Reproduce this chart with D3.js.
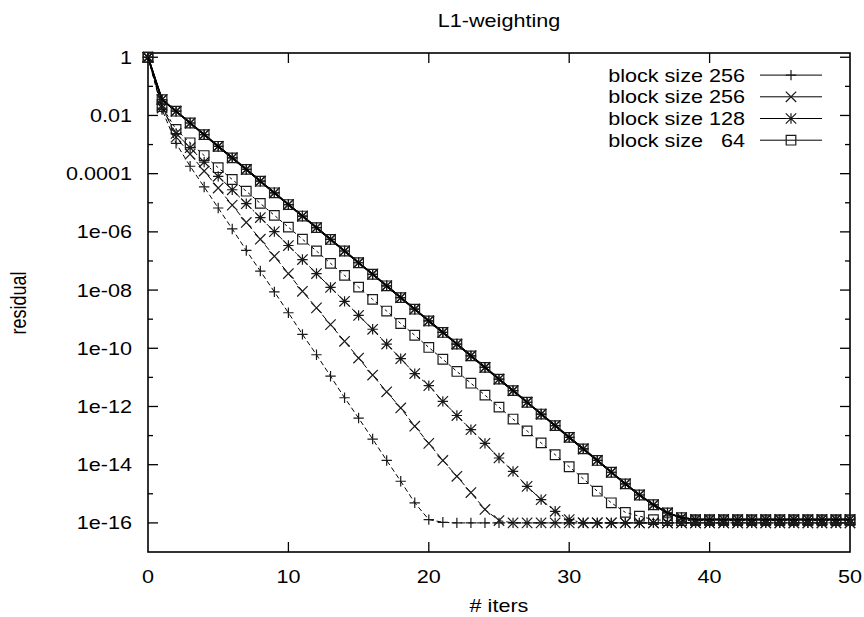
<!DOCTYPE html>
<html>
<head>
<meta charset="utf-8">
<script src="https://cdn.jsdelivr.net/npm/d3@7"></script>
<style>
  html, body { margin: 0; padding: 0; background: #fff; }
  text { font-family: "Liberation Sans", Arial, Helvetica, sans-serif; font-size: 18px; fill: #000; white-space: pre; }
</style>
</head>
<body>
<div id="chart"></div>
<script>
// residual per iteration (iterations 0..50)
let iters = [0,1,2,3,4,5,6,7,8,9,10,11,12,13,14,15,16,17,18,19,20,21,22,23,24,25,
  26,27,28,29,30,31,32,33,34,35,36,37,38,39,40,41,42,43,44,45,46,47,48,49,50];

// the four solid runs lie on top of each other
let solidRes = [1, 3.5e-2, 1.4e-2, 5.5e-3, 2.2e-3, 8.7e-4, 3.5e-4, 1.4e-4, 5.5e-5, 2.2e-5,
  8.7e-6, 3.5e-6, 1.4e-6, 5.5e-7, 2.2e-7, 8.7e-8, 3.5e-8, 1.4e-8, 5.5e-9, 2.2e-9,
  8.7e-10, 3.5e-10, 1.4e-10, 5.5e-11, 2.2e-11, 8.7e-12, 3.5e-12, 1.4e-12, 5.5e-13, 2.2e-13,
  8.7e-14, 3.5e-14, 1.4e-14, 5.5e-15, 2.2e-15, 9.1e-16, 4.2e-16, 2.2e-16, 1.5e-16,
  1.3e-16, 1.3e-16, 1.3e-16, 1.3e-16, 1.3e-16, 1.3e-16, 1.3e-16, 1.3e-16, 1.3e-16, 1.3e-16, 1.3e-16, 1.3e-16];

let dashSquare = [1, 2.0e-2, 3.3e-3, 1.15e-3, 4.2e-4, 1.6e-4, 6.3e-5, 2.5e-5, 9.5e-6, 3.7e-6,
  1.45e-6, 5.6e-7, 2.2e-7, 8.3e-8, 3.2e-8, 1.26e-8, 4.8e-9, 1.9e-9, 7.1e-10, 2.8e-10,
  1.07e-10, 4.2e-11, 1.6e-11, 6.3e-12, 2.45e-12, 9.5e-13, 3.7e-13, 1.45e-13, 5.6e-14, 2.2e-14,
  8.5e-15, 3.3e-15, 1.23e-15, 4.9e-16, 2.3e-16, 1.7e-16, 1.3e-16,
  1.2e-16, 1.2e-16, 1.2e-16, 1.2e-16, 1.2e-16, 1.2e-16, 1.2e-16, 1.2e-16, 1.2e-16, 1.2e-16, 1.2e-16, 1.2e-16, 1.2e-16, 1.2e-16];

let dashStar = [1, 1.8e-2, 2.4e-3, 7.8e-4, 2.5e-4, 8.1e-5, 2.8e-5, 9.3e-6, 3.1e-6, 1.02e-6,
  3.4e-7, 1.12e-7, 3.7e-8, 1.23e-8, 4.1e-9, 1.35e-9, 4.5e-10, 1.4e-10, 4.4e-11, 1.35e-11,
  5.2e-12, 1.5e-12, 4.9e-13, 1.6e-13, 5.4e-14, 1.7e-14, 5.9e-15, 1.8e-15, 6.3e-16, 2.5e-16,
  1.3e-16, 1.0e-16, 1.0e-16, 1.0e-16, 1.0e-16, 1.0e-16, 1.0e-16, 1.0e-16, 1.0e-16, 1.0e-16,
  1.0e-16, 1.0e-16, 1.0e-16, 1.0e-16, 1.0e-16, 1.0e-16, 1.0e-16, 1.0e-16, 1.0e-16, 1.0e-16, 1.0e-16];

let dashCross = [1, 2.2e-2, 1.8e-3, 4.7e-4, 1.23e-4, 3.2e-5, 8.3e-6, 2.1e-6, 5.6e-7, 1.45e-7,
  3.7e-8, 9.1e-9, 2.45e-9, 6.5e-10, 1.74e-10, 4.6e-11, 1.2e-11, 3.2e-12, 8.9e-13, 2.1e-13,
  5.4e-14, 1.4e-14, 4.0e-15, 1.1e-15, 2.9e-16, 1.2e-16,
  1.0e-16, 1.0e-16, 1.0e-16, 1.0e-16, 1.0e-16, 1.0e-16, 1.0e-16, 1.0e-16, 1.0e-16, 1.0e-16,
  1.0e-16, 1.0e-16, 1.0e-16, 1.0e-16, 1.0e-16, 1.0e-16, 1.0e-16, 1.0e-16, 1.0e-16, 1.0e-16,
  1.0e-16, 1.0e-16, 1.0e-16, 1.0e-16, 1.0e-16];

let dashPlus = [1, 1.6e-2, 1.1e-3, 1.8e-4, 3.5e-5, 6.6e-6, 1.26e-6, 2.3e-7, 4.5e-8, 8.7e-9,
  1.66e-9, 3.0e-10, 6.0e-11, 1.1e-11, 2.0e-12, 4.0e-13, 7.6e-14, 1.4e-14, 2.7e-15, 4.9e-16,
  1.3e-16, 1.05e-16,
  1.0e-16, 1.0e-16, 1.0e-16, 1.0e-16, 1.0e-16, 1.0e-16, 1.0e-16, 1.0e-16, 1.0e-16, 1.0e-16,
  1.0e-16, 1.0e-16, 1.0e-16, 1.0e-16, 1.0e-16, 1.0e-16, 1.0e-16, 1.0e-16, 1.0e-16, 1.0e-16,
  1.0e-16, 1.0e-16, 1.0e-16, 1.0e-16, 1.0e-16, 1.0e-16, 1.0e-16, 1.0e-16, 1.0e-16];

let legendNames = ["block size 256", "block size 256", "block size 128", "block size   64"];
let markerTypes = ["plus", "cross", "star", "square"];

let xTicks = [0, 10, 20, 30, 40, 50];
let yTicks = [1, 1e-2, 1e-4, 1e-6, 1e-8, 1e-10, 1e-12, 1e-14, 1e-16];
let yTickLabels = ["1", "0.01", "0.0001", "1e-06", "1e-08", "1e-10", "1e-12", "1e-14", "1e-16"];
let yMinorTicks = [1e-1, 1e-3, 1e-5, 1e-7, 1e-9, 1e-11, 1e-13, 1e-15];

const W = 864, H = 617;
const padding = {left: 148, right: 14, top: 53, bottom: 65};
const SX = 1.2; // glyphs are wider than normal in the reference

let svg = d3.select('#chart').append('svg')
    .attr('width', W)
    .attr('height', H);

let x = d3.scaleLinear()
    .domain([0, 50])
    .range([padding.left, W - padding.right]);
let y = d3.scaleLog()
    .domain([1e-17, 1.4])
    .range([H - padding.bottom, padding.top]);

const x0 = x.range()[0], x1 = x.range()[1];
const yb = y.range()[0], yt = y.range()[1];

function label(g, tx, ty, str, anchor) {
    return g.append('text')
        .attr('transform', `translate(${tx},${ty}) scale(${SX},1)`)
        .attr('text-anchor', anchor)
        .text(str);
}

// ticks (mirrored on all four sides)
let axes = svg.append('g').attr('stroke', '#000').attr('stroke-width', 1.3);
xTicks.forEach(t => {
    if (t == 0 || t == 50) return;
    axes.append('line').attr('x1', x(t)).attr('x2', x(t)).attr('y1', yb).attr('y2', yb - 10);
    axes.append('line').attr('x1', x(t)).attr('x2', x(t)).attr('y1', yt).attr('y2', yt + 10);
});
yTicks.forEach(t => {
    axes.append('line').attr('x1', x0).attr('x2', x0 + 10).attr('y1', y(t)).attr('y2', y(t));
    axes.append('line').attr('x1', x1).attr('x2', x1 - 10).attr('y1', y(t)).attr('y2', y(t));
});
yMinorTicks.forEach(t => {
    axes.append('line').attr('x1', x0).attr('x2', x0 + 5).attr('y1', y(t)).attr('y2', y(t));
    axes.append('line').attr('x1', x1).attr('x2', x1 - 5).attr('y1', y(t)).attr('y2', y(t));
});
svg.append('rect')
    .attr('x', x0).attr('y', yt)
    .attr('width', x1 - x0).attr('height', yb - yt)
    .attr('fill', 'none').attr('stroke', '#000').attr('stroke-width', 1.6);

let labels = svg.append('g');
xTicks.forEach(t => label(labels, x(t), 583, String(t), 'middle'));
yTicks.forEach((t, i) => label(labels, 132, y(t) + 6.5, yTickLabels[i], 'end'));
label(labels, (x0 + x1) / 2, 27, "L1-weighting", 'middle');
label(labels, (x0 + x1) / 2, 612, "# iters", 'middle');
labels.append('text')
    .attr('transform', `translate(26,303) rotate(-90) scale(1,${SX})`)
    .attr('text-anchor', 'middle')
    .text("residual");

// markers
function draw_marker(g, type, cx, cy) {
    let s = type == 'square' ? 4.8 : 5.2;
    let p;
    if (type == 'plus') p = `M${cx - s},${cy}H${cx + s}M${cx},${cy - s}V${cy + s}`;
    else if (type == 'cross') p = `M${cx - s},${cy - s}L${cx + s},${cy + s}M${cx - s},${cy + s}L${cx + s},${cy - s}`;
    else if (type == 'star') p = `M${cx - s},${cy}H${cx + s}M${cx},${cy - s}V${cy + s}` +
        `M${cx - s},${cy - s}L${cx + s},${cy + s}M${cx - s},${cy + s}L${cx + s},${cy - s}`;
    else p = `M${cx - s},${cy - s}H${cx + s}V${cy + s}H${cx - s}Z`;
    g.append('path').attr('d', p)
        .attr('fill', 'none')
        .attr('stroke', '#1a1a1a')
        .attr('stroke-width', 1.2);
}

let line = d3.line()
    .x((d, i) => x(iters[i]))
    .y(d => y(d));

function draw_series(values, type, dash, width) {
    let g = svg.append('g');
    g.append('path')
        .datum(values)
        .attr('d', line)
        .attr('fill', 'none')
        .attr('stroke', '#000')
        .attr('stroke-width', width)
        .attr('stroke-dasharray', dash);
    values.forEach((v, i) => draw_marker(g, type, x(iters[i]), y(v)));
}

// dashed runs
draw_series(dashPlus, 'plus', '5,3', 1);
draw_series(dashCross, 'cross', '6,3', 1);
draw_series(dashStar, 'star', '7,3,2,3', 1);
draw_series(dashSquare, 'square', '3,3', 1);
// solid runs (one per legend entry)
markerTypes.forEach(m => draw_series(solidRes, m, null, 1.5));

// legend
let legend = svg.append('g');
legendNames.forEach((name, i) => {
    let base = 81.6 + i * 21.7;
    label(legend, 745, base, name, 'end');
    legend.append('line')
        .attr('x1', 760).attr('x2', 822)
        .attr('y1', base - 6.5).attr('y2', base - 6.5)
        .attr('stroke', '#000').attr('stroke-width', 1);
    draw_marker(legend, markerTypes[i], 791, base - 6.5);
});
</script>
</body>
</html>
